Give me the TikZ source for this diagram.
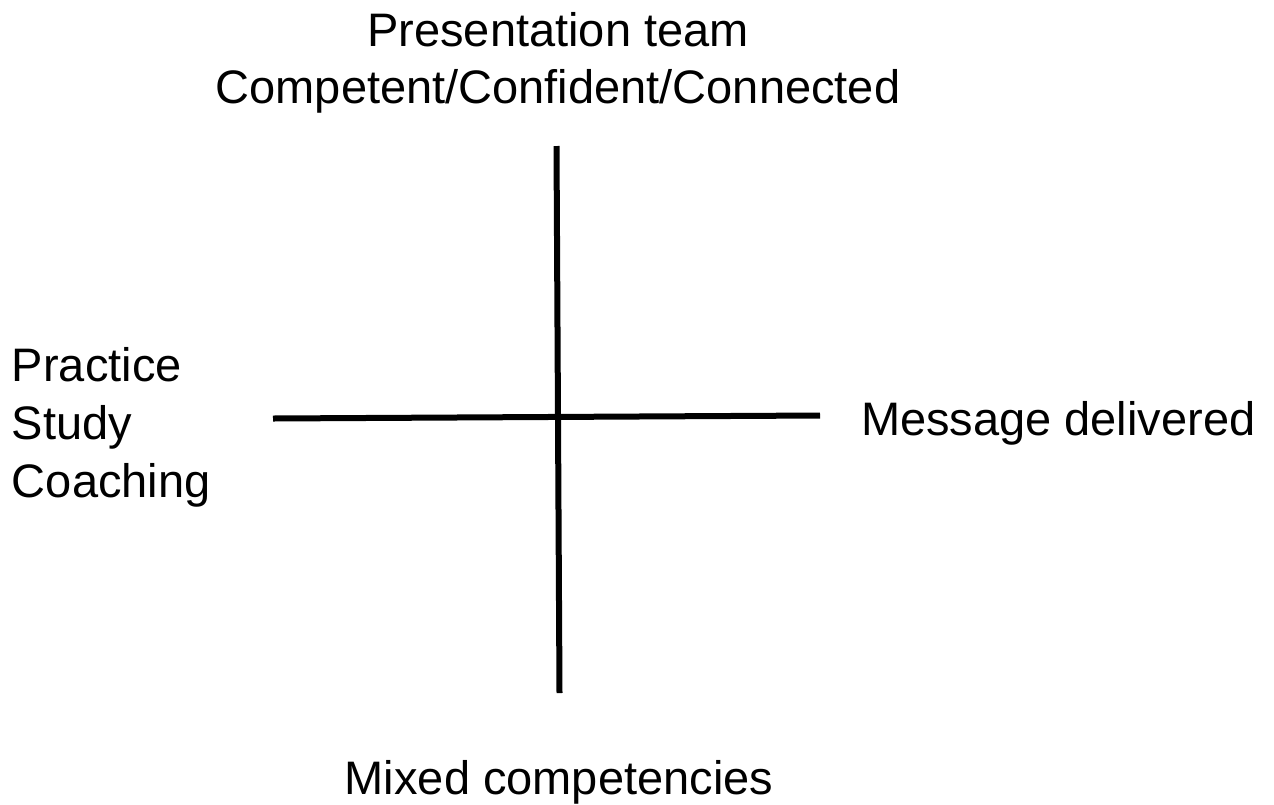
\documentclass[tikz,border=0pt]{standalone}
\usepackage{fontspec}
\setmainfont{Liberation Sans}
\begin{document}
\begin{tikzpicture}[x=1pt,y=-1pt,
  lbl/.style={inner sep=0pt, outer sep=0pt, font=\fontsize{47}{58}\selectfont},
  axis/.style={line width=6pt, line cap=butt, black}]
  % canvas
  \path[fill=white] (0,0) rectangle (1274,804);
  \useasboundingbox (0,0) rectangle (1274,804);

  % axis end points
  \coordinate (vtop) at (556.5,146);
  \coordinate (vbot) at (559.5,693);
  \coordinate (hleft) at (273,418.5);
  \coordinate (hright) at (820,415.5);

  \draw[axis] (vtop) -- (vbot);
  \draw[axis] (hleft) -- (hright);

  % top label
  \node[lbl, anchor=base] (top1) at (558,46) {Presentation team};
  \node[lbl, anchor=base] (top2) at (558,103) {Competent/Confident/Connected};

  % left label
  \node[lbl, anchor=base west] (left1) at (12,381) {Practice};
  \node[lbl, anchor=base west] (left2) at (12,439) {Study};
  \node[lbl, anchor=base west] (left3) at (12,497) {Coaching};

  % right label
  \node[lbl, anchor=base west] (right) at (861,435) {Message delivered};

  % bottom label
  \node[lbl, anchor=base] (bottom) at (559,794) {Mixed competencies};
\end{tikzpicture}
\end{document}
